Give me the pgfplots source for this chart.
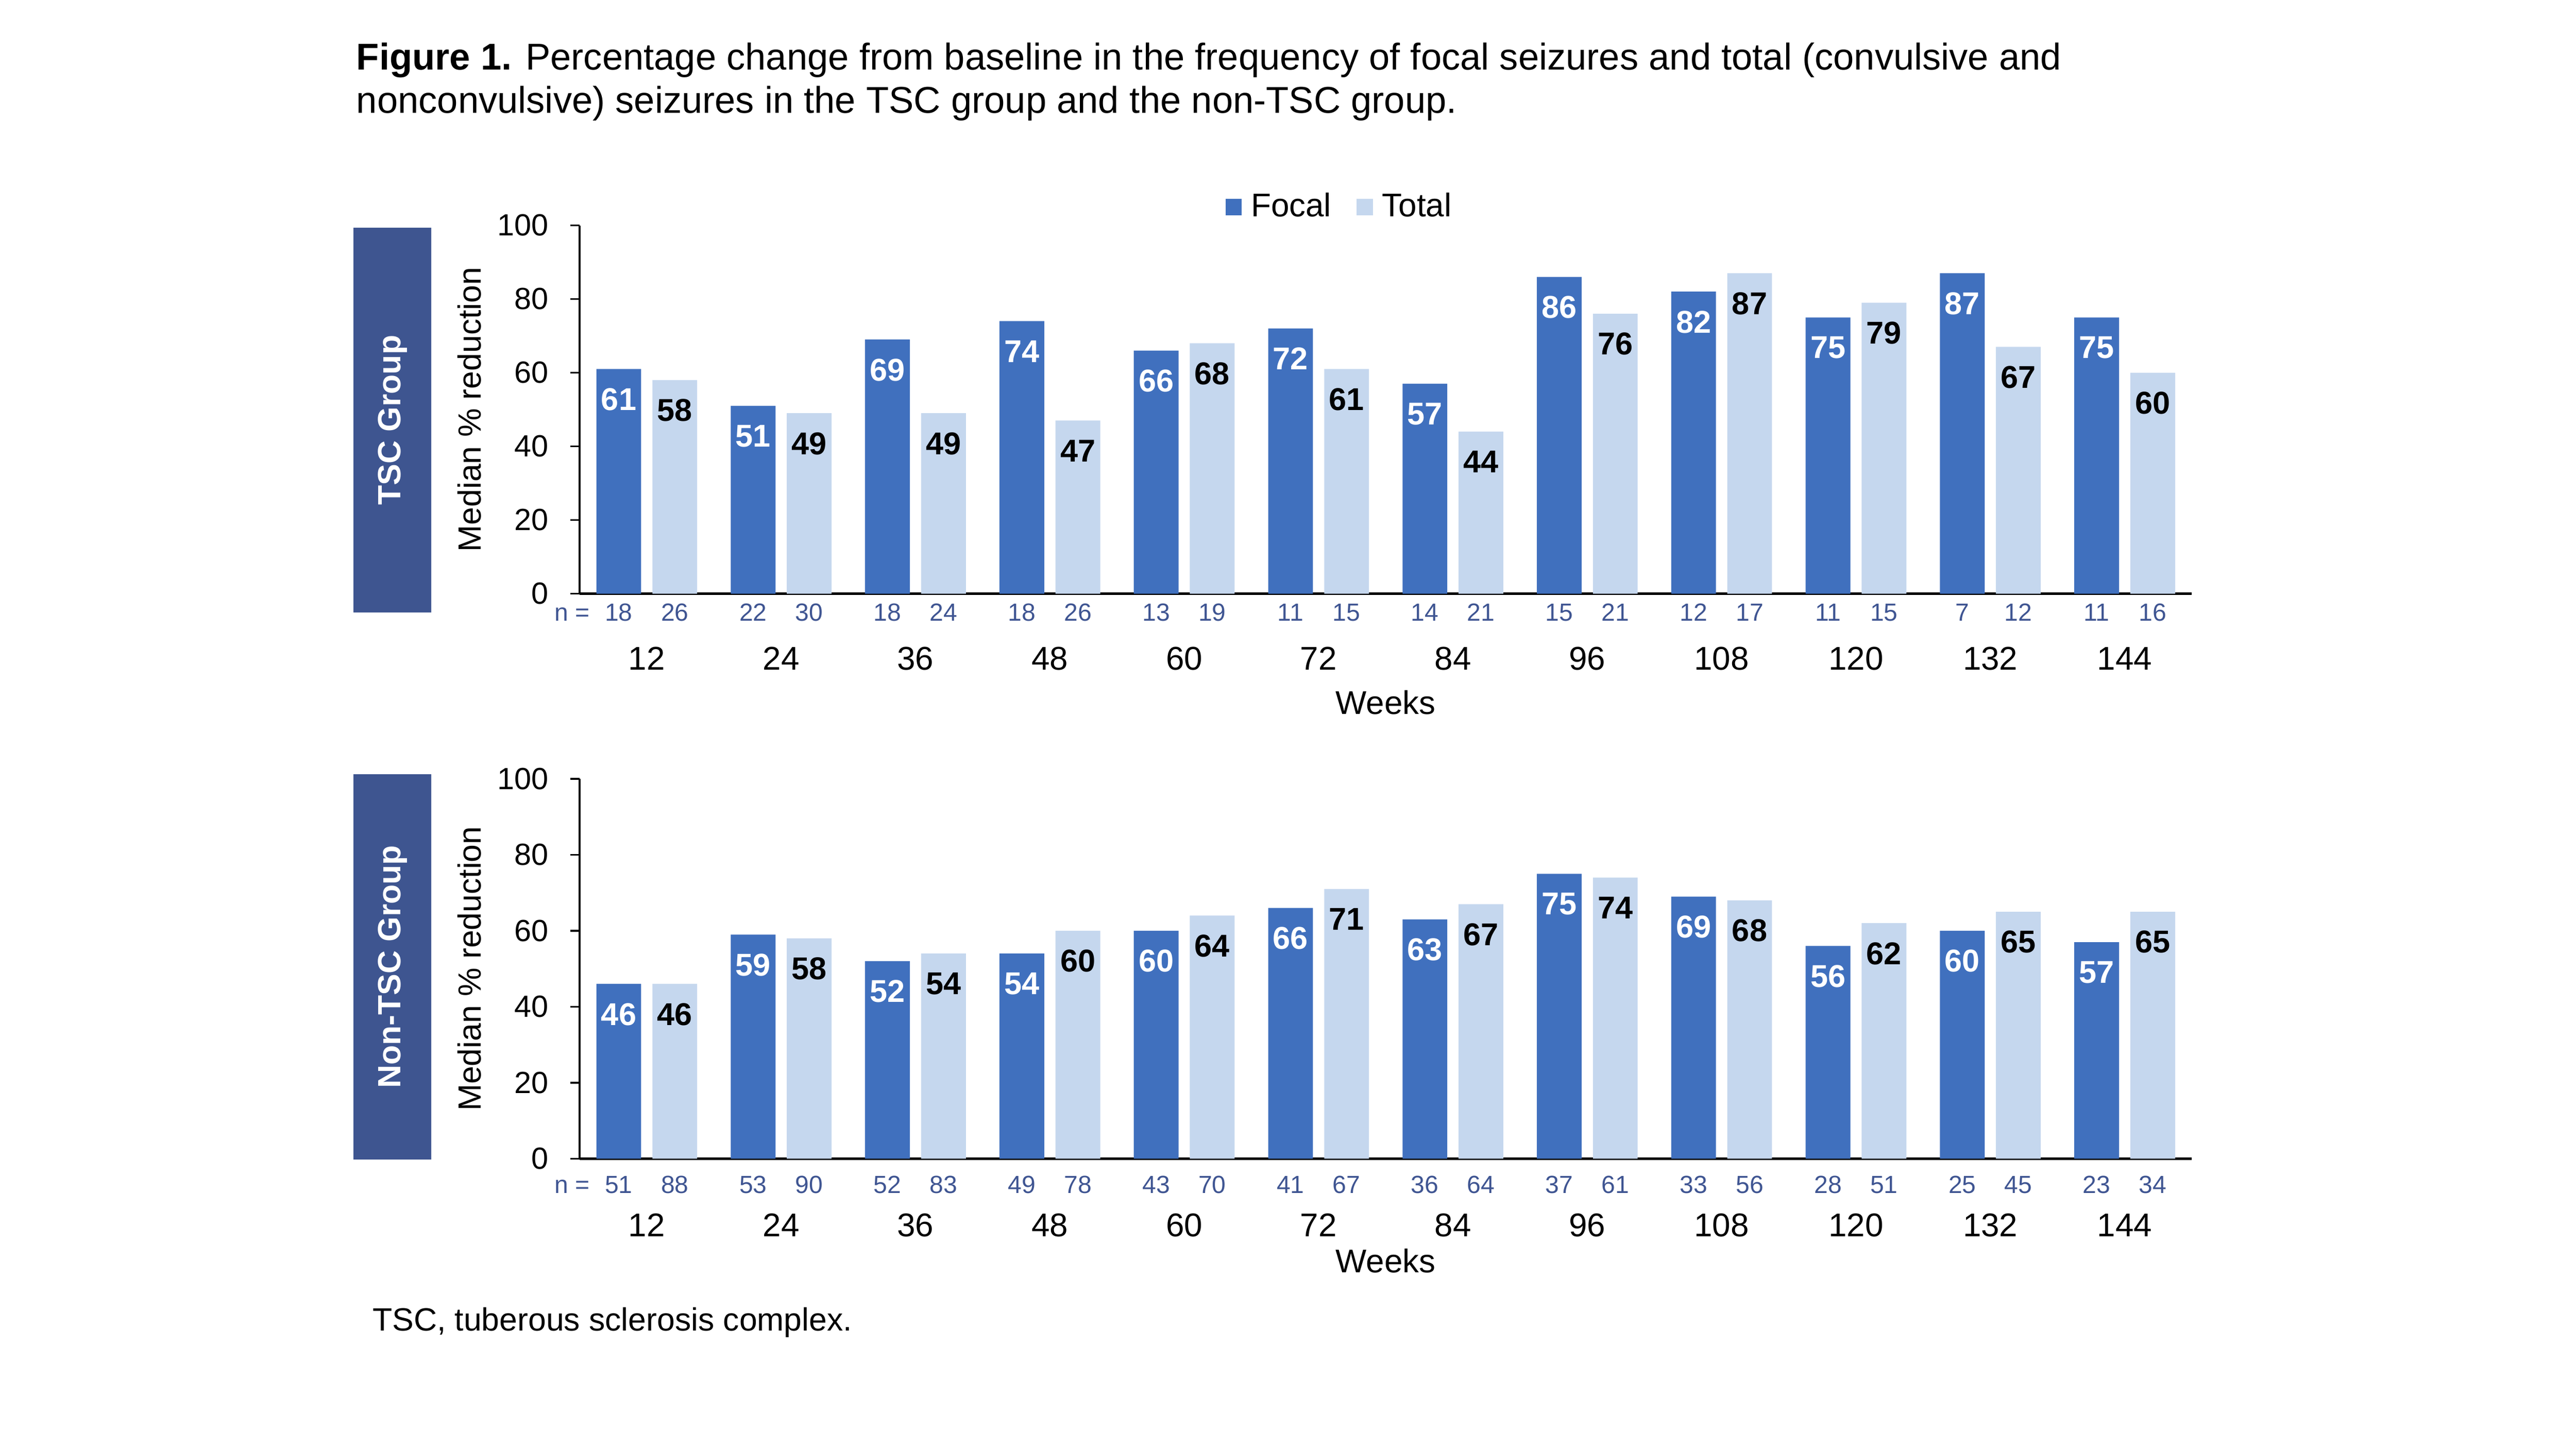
\documentclass[border=0pt]{standalone}
\usepackage{fontspec}
\setmainfont{Liberation Sans}
\usepackage{pgfplots}
\pgfplotsset{compat=1.18}

\definecolor{focal}{HTML}{4070BE}
\definecolor{total}{HTML}{C5D7EE}
\definecolor{boxblue}{HTML}{3E5590}
\definecolor{nblue}{HTML}{3F5592}

\pgfplotsset{
  /pgf/number format/assume math mode=true,
  seizure/.style={
    scale only axis, width=500.7pt,
    xmin=-0.5, xmax=11.5, ymin=0, ymax=100,
    axis x line*=bottom, axis y line*=left,
    x axis line style={line width=0.9pt},
    y axis line style={line width=0.6pt},
    ytick={0,20,...,100},
    tick align=outside, major tick length=2.9pt,
    ytick style={line width=0.6pt, black},
    xtick={0,...,11},
    xticklabels={12,24,36,48,60,72,84,96,108,120,132,144},
    xtick style={draw=none},
    yticklabel style={font=\fontsize{9.5pt}{11pt}\selectfont, xshift=-3.2pt},
    ylabel={Median \% reduction},
    every axis y label/.style={at={(axis description cs:-0.0613,0.5)}, rotate=90, anchor=base,
      font=\fontsize{10pt}{12pt}\selectfont},
    xlabel={Weeks},
    clip=false,
  },
  barlabel/.style 2 args={nodes near coords,
    every node near coord/.append style={anchor=center, xshift=#2, yshift=-9.4pt,
      font=\bfseries\fontsize{9.8pt}{11pt}\selectfont, text=#1}},
  nlabel/.style={draw=none, mark=none, point meta=explicit symbolic, nodes near coords,
    every node near coord/.append style={anchor=base, yshift=#1,
      font=\fontsize{7.7pt}{9pt}\selectfont, text=nblue}},
}

\begin{document}
\begin{tikzpicture}
\useasboundingbox (0,0) rectangle (800pt,-450pt);

% title
\node[anchor=base west, inner sep=0pt, font=\fontsize{11.58pt}{13.4pt}\selectfont] at (110.5pt,-21.7pt)
  {\textbf{Figure 1.} Percentage change from baseline in the frequency of focal seizures and total (convulsive and};
\node[anchor=base west, inner sep=0pt, font=\fontsize{11.58pt}{13.4pt}\selectfont] at (110.5pt,-35.1pt)
  {nonconvulsive) seizures in the TSC group and the non-TSC group.};

% group boxes
\fill[boxblue] (109.8pt,-70.7pt) rectangle (133.9pt,-190.3pt);
\node[rotate=90, text=white, font=\bfseries\fontsize{10pt}{12pt}\selectfont] at (121.9pt,-130.5pt) {TSC Group};
\fill[boxblue] (109.8pt,-240.5pt) rectangle (133.9pt,-360.1pt);
\node[rotate=90, text=white, font=\bfseries\fontsize{10pt}{12pt}\selectfont] at (121.9pt,-300.3pt) {Non-TSC Group};

% TSC group
\begin{axis}[seizure, height=114.4pt,
  at={(180pt,-184.4pt)}, anchor=south west,
  xticklabel style={font=\fontsize{10.2pt}{12pt}\selectfont, anchor=base, yshift=-20.7pt},
  every axis x label/.style={at={(axis description cs:0.5,0)}, anchor=base, yshift=-37.4pt,
    font=\fontsize{10.2pt}{12pt}\selectfont},
  legend style={at={(axis description cs:0.4707,1.0498)}, anchor=center, draw=none, fill=none,
    legend columns=2, font=\fontsize{10.2pt}{12pt}\selectfont, nodes={inner sep=0pt},
    /tikz/every odd column/.append style={column sep=2.9pt},
    /tikz/every even column/.append style={column sep=7.9pt}},
  legend image code/.code={\fill[#1] (0pt,-2.5pt) rectangle (5pt,2.5pt);},
]
\addplot[ybar, bar width=13.9pt, bar shift=-8.7pt, fill=focal, draw=none, barlabel={white}{-8.7pt}] coordinates {
  (0,61) (1,51) (2,69) (3,74) (4,66) (5,72) (6,57) (7,86) (8,82) (9,75) (10,87) (11,75)};
\addlegendentry{Focal}
\addplot[ybar, bar width=13.9pt, bar shift=8.7pt, fill=total, draw=none, barlabel={black}{8.7pt}] coordinates {
  (0,58) (1,49) (2,49) (3,47) (4,68) (5,61) (6,44) (7,76) (8,87) (9,79) (10,67) (11,60)};
\addlegendentry{Total}
\addplot[nlabel=-8.4pt] coordinates {
  (-0.2086,0)[18] (0.7914,0)[22] (1.7914,0)[18] (2.7914,0)[18] (3.7914,0)[13] (4.7914,0)[11]
  (5.7914,0)[14] (6.7914,0)[15] (7.7914,0)[12] (8.7914,0)[11] (9.7914,0)[7] (10.7914,0)[11]};
\addplot[nlabel=-8.4pt] coordinates {
  (0.2086,0)[26] (1.2086,0)[30] (2.2086,0)[24] (3.2086,0)[26] (4.2086,0)[19] (5.2086,0)[15]
  (6.2086,0)[21] (7.2086,0)[21] (8.2086,0)[17] (9.2086,0)[15] (10.2086,0)[12] (11.2086,0)[16]};
\node[anchor=base east, inner sep=0pt, xshift=3.4pt, yshift=-8.4pt, text=nblue,
  font=\fontsize{7.7pt}{9pt}\selectfont] at (axis cs:-0.5,0) {n =};
\end{axis}

% Non-TSC group
\begin{axis}[seizure, height=118pt,
  at={(180pt,-359.9pt)}, anchor=south west,
  xticklabel style={font=\fontsize{10.2pt}{12pt}\selectfont, anchor=base, yshift=-21.3pt},
  every axis x label/.style={at={(axis description cs:0.5,0)}, anchor=base, yshift=-35.4pt,
    font=\fontsize{10.2pt}{12pt}\selectfont},
]
\addplot[ybar, bar width=13.9pt, bar shift=-8.7pt, fill=focal, draw=none, barlabel={white}{-8.7pt}] coordinates {
  (0,46) (1,59) (2,52) (3,54) (4,60) (5,66) (6,63) (7,75) (8,69) (9,56) (10,60) (11,57)};
\addplot[ybar, bar width=13.9pt, bar shift=8.7pt, fill=total, draw=none, barlabel={black}{8.7pt}] coordinates {
  (0,46) (1,58) (2,54) (3,60) (4,64) (5,71) (6,67) (7,74) (8,68) (9,62) (10,65) (11,65)};
\addplot[nlabel=-10.7pt] coordinates {
  (-0.2086,0)[51] (0.7914,0)[53] (1.7914,0)[52] (2.7914,0)[49] (3.7914,0)[43] (4.7914,0)[41]
  (5.7914,0)[36] (6.7914,0)[37] (7.7914,0)[33] (8.7914,0)[28] (9.7914,0)[25] (10.7914,0)[23]};
\addplot[nlabel=-10.7pt] coordinates {
  (0.2086,0)[88] (1.2086,0)[90] (2.2086,0)[83] (3.2086,0)[78] (4.2086,0)[70] (5.2086,0)[67]
  (6.2086,0)[64] (7.2086,0)[61] (8.2086,0)[56] (9.2086,0)[51] (10.2086,0)[45] (11.2086,0)[34]};
\node[anchor=base east, inner sep=0pt, xshift=3.4pt, yshift=-10.7pt, text=nblue,
  font=\fontsize{7.7pt}{9pt}\selectfont] at (axis cs:-0.5,0) {n =};
\end{axis}

% footnote
\node[anchor=base west, inner sep=0pt, font=\fontsize{10pt}{12pt}\selectfont] at (115.5pt,-413.3pt)
  {TSC, tuberous sclerosis complex.};
\end{tikzpicture}
\end{document}
